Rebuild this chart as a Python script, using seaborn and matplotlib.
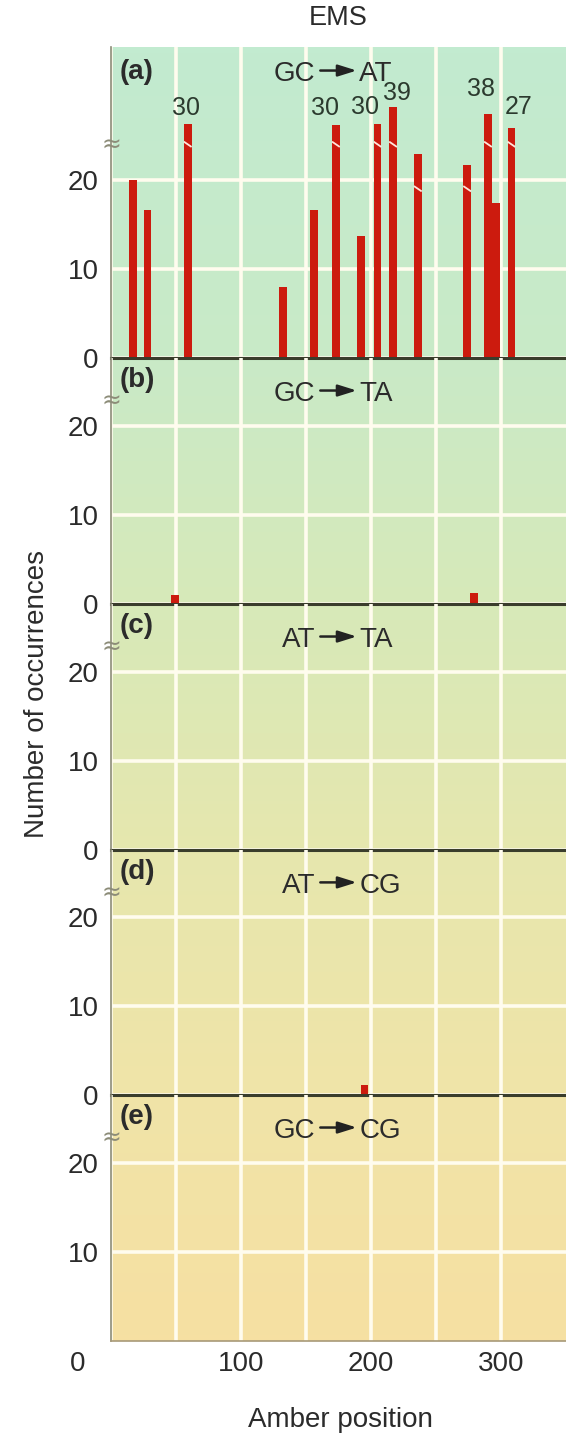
import numpy as np
import matplotlib
matplotlib.use('Agg')
import matplotlib.pyplot as plt
from matplotlib.colors import LinearSegmentedColormap
from matplotlib.transforms import ScaledTranslation
import seaborn as sns


# data (amber position, drawn bar height) for each mutation class
# (a) GC -> AT ; bars that run past the axis break carry their real count as a label
a_pos = [17, 28, 59, 132, 156, 173, 192, 205, 217, 236, 274, 290, 296, 308]
a_height = [20, 16.7, 26.3, 8, 16.6, 26.2, 13.7, 26.3, 28.2, 23, 21.7, 27.5, 17.4, 25.9]
a_label = ['', '', '30', '', '', '30', '', '30', '39', '', '', '38', '', '27']
a_break = [None, None, 24, None, None, 24, None, 24, 24, 19, 19, 24, None, 24]

# (b) GC -> TA
b_pos = [49, 279]
b_height = [1, 1.2]

# (c) AT -> TA
c_pos = []
c_height = []

# (d) AT -> CG
d_pos = [195]
d_height = [1.1]

# (e) GC -> CG
e_pos = []
e_height = []

panel_letters = ['(a)', '(b)', '(c)', '(d)', '(e)']
from_pair = ['GC', 'GC', 'AT', 'AT', 'GC']
to_pair = ['AT', 'TA', 'TA', 'CG', 'CG']
x_ticks = [0, 100, 200, 300]


sns.set_theme(style='white')
plt.rcParams['font.family'] = ['Liberation Sans', 'DejaVu Sans']
txt = '#2b2b2b'

fig = plt.figure(figsize=(5.66, 14.34), dpi=100)
W, H = 566, 1434
left = 111 / W
width = (W - 111) / W

# pixel rows of each panel (top, bottom) and y upper limit
rows = [(47, 358, 35), (358, 604, 27.6), (604, 850, 27.6), (850, 1095, 27.6), (1095, 1341, 27.6)]

# background gradient green -> sand
bg = fig.add_axes([left, (H - 1341) / H, width, (1341 - 47) / H], zorder=0)
cmap = LinearSegmentedColormap.from_list('bg', [
    (0.0, '#c2ebd0'), (0.24, '#c9eac7'), (0.443, '#d8e9b8'),
    (0.621, '#e6e7ae'), (0.81, '#f0e4a8'), (1.0, '#f6e0a2')])
bg.imshow(np.linspace(0, 1, 400).reshape(-1, 1), cmap=cmap, aspect='auto', extent=[0, 1, 1, 0])
bg.set_axis_off()

bar_color = '#cc1b0e'
bar_w = 6

all_pos = [a_pos, b_pos, c_pos, d_pos, e_pos]
all_h = [a_height, b_height, c_height, d_height, e_height]

axes = []
for i, (top, bot, ymax) in enumerate(rows):
    ax = fig.add_axes([left, (H - bot) / H, width, (bot - top) / H], zorder=1)
    ax.set_facecolor('none')
    axes.append(ax)

    pos, hgt = all_pos[i], all_h[i]
    if len(pos) > 0:
        gap = np.min(np.diff(np.unique(pos))) if len(pos) > 1 else 1
        sns.barplot(x=pos, y=hgt, native_scale=True, width=bar_w / gap, color=bar_color,
                    saturation=1, errorbar=None, linewidth=0, orient='x', ax=ax)

    ax.set_xlim(0, 350)
    ax.set_ylim(0, ymax)
    ax.set_xticks(x_ticks)
    ax.set_xticks([50, 150, 250], minor=True)
    ax.set_yticks([10, 20] if i == 4 else [0, 10, 20])
    ax.set_yticklabels(['10', '20'] if i == 4 else ['0', '10', '20'])
    ax.grid(True, which='both', color='#fffcee', lw=2.6)
    ax.set_axisbelow(True)
    ax.tick_params(axis='both', which='both', length=0, labelsize=20, labelcolor=txt, pad=9)
    ax.set_xlabel('')
    ax.set_ylabel('')

    for s in ['top', 'right']:
        ax.spines[s].set_visible(False)
    ax.spines['left'].set_color('#8c8c78')
    ax.spines['left'].set_linewidth(1.2)
    if i < 4:
        ax.spines['bottom'].set_color('#3a3d2c')
        ax.spines['bottom'].set_linewidth(2.2)
        ax.tick_params(axis='x', labelbottom=False)
    else:
        ax.spines['bottom'].set_color('#a89a78')
        ax.spines['bottom'].set_linewidth(1.2)
        ax.tick_params(axis='x', pad=7)
        ax.set_xticklabels([str(t) for t in x_ticks])
        lab0 = ax.get_xticklabels()[0]
        lab0.set_transform(lab0.get_transform() + ScaledTranslation(-24 / 72, 0, fig.dpi_scale_trans))

    # panel letter
    ax.text(7, ymax - (2.8 if i == 0 else 2.5), panel_letters[i], fontsize=20, fontweight='bold',
            color=txt, ha='left', va='center')

    # mutation label with arrow
    ybase = 31.2 if i == 0 else 22.8
    ax.text(157, ybase, from_pair[i], fontsize=20, color=txt, ha='right', va='baseline')
    ax.text(191, ybase, to_pair[i], fontsize=20, color=txt, ha='left', va='baseline')
    ax.annotate('', xy=(189, ybase + 1.15), xytext=(161, ybase + 1.15),
                arrowprops=dict(arrowstyle='-|>,head_length=0.8,head_width=0.25',
                                color='#222222', lw=1.8, shrinkA=0, shrinkB=0, mutation_scale=14))

    # axis break mark on the left spine
    ax.text(0, 24 if i == 0 else 22.8, '\u2248', fontsize=17, color='#8c8c78',
            ha='center', va='center', clip_on=False, family='DejaVu Sans')

# broken bars in (a): white break marks and real counts
ax = axes[0]
label_off = {2: (-2, 16), 5: (-11, 17), 7: (-12, 17), 8: (4, 14), 11: (-7, 25), 13: (7, 21)}
for k, (x, h) in enumerate(zip(a_pos, a_height)):
    if a_break[k] is not None:
        yb = a_break[k]
        ax.plot([x - bar_w / 2, x + bar_w / 2], [yb + 0.35, yb - 0.25], color='#ffe6dc', lw=1.3,
                solid_capstyle='butt', zorder=5)
    if a_label[k]:
        dx, dy = label_off[k]
        ax.annotate(a_label[k], xy=(x, h), xytext=(dx, dy), textcoords='offset pixels',
                    ha='center', va='center', fontsize=18, color='#2b3a2e')

fig.text(338 / W, 1 - 18 / H, 'EMS', fontsize=19.5, color=txt, ha='center', va='center')
fig.text(37 / W, 1 - 694 / H, 'Number of occurrences', fontsize=20, color=txt,
         ha='center', va='center', rotation=90)
fig.text(340 / W, 1 - 1420 / H, 'Amber position', fontsize=20, color=txt, ha='center', va='center')

fig.savefig('out.png', dpi=100, facecolor='white')
